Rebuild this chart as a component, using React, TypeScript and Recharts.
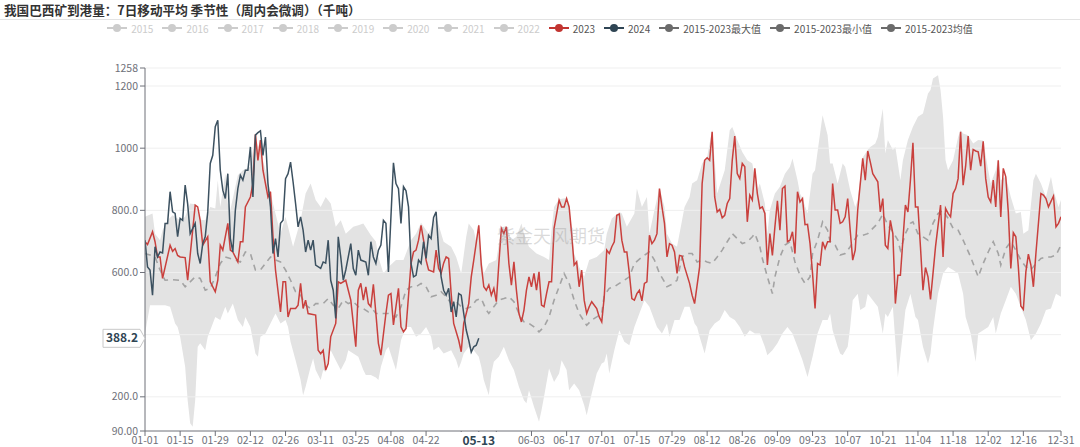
import React from "react";
import { ComposedChart, Area, Line, XAxis, YAxis, CartesianGrid } from "recharts";

const FONT = "'Noto Sans CJK SC', 'Noto Sans', sans-serif";

const title = "我国巴西矿到港量：7日移动平均 季节性（周内会微调）（千吨）";
const watermark = "紫金天风期货";

// legend: years that are switched off, then the visible series
const hiddenYears = ["2015", "2016", "2017", "2018", "2019", "2020", "2021", "2022"];
const shownSeries = ["2023", "2024", "2015-2023最大值", "2015-2023最小值", "2015-2023均值"];
const shownColors = ["#c23531", "#2f4554", "#6b6b6b", "#6b6b6b", "#6b6b6b"];

// x axis: day of a leap year (0 = 01-01, 365 = 12-31)
const xTicks = [0, 14, 28, 42, 56, 70, 84, 98, 112, 126, 140, 154, 168, 182, 196, 210, 224, 238, 252, 266, 280, 294, 308, 322, 336, 350, 365];
// labels sitting under the cursor box are not drawn
const xTicksCovered = [126, 140];
const cursorDay = 133;
const cursorValue = 388.2;

const yTicks = [90, 200, 600, 800, 1000, 1200, 1258];
const yGrid = [200, 400, 600, 800, 1000, 1200, 1258];

// [day, 千吨]
const y2023: [number, number][] = [
  [0, 699], [1, 690], [3, 731], [4, 699], [5, 650], [6, 650], [7, 581], [10, 688], [11, 668], [12, 677], [13, 655], [14, 650], [16, 648], [17, 575],
  [20, 817], [21, 811], [22, 768], [23, 688], [25, 715], [26, 570], [28, 538], [29, 575], [30, 688], [31, 672], [33, 758], [34, 672], [35, 666],
  [37, 634], [38, 699], [39, 699], [40, 811], [42, 843], [43, 886], [44, 1045], [45, 961], [46, 1026], [47, 929], [49, 843], [50, 860], [51, 715],
  [52, 608], [54, 473], [55, 570], [56, 570], [57, 457], [58, 484], [60, 484], [61, 495], [62, 565], [63, 484], [64, 511], [65, 468], [68, 463],
  [69, 350], [70, 339], [71, 350], [72, 286], [73, 307], [74, 393], [76, 436], [77, 570], [78, 565], [80, 575], [81, 543], [82, 511], [83, 436],
  [84, 361], [85, 543], [86, 565], [87, 511], [88, 554], [89, 500], [90, 490], [91, 562], [92, 468], [93, 372], [94, 334], [96, 468], [97, 527],
  [98, 532], [99, 431], [101, 549], [102, 425], [103, 409], [104, 420], [106, 629], [107, 666], [108, 672], [109, 704], [110, 752], [111, 704],
  [112, 640], [113, 608], [115, 602], [116, 672], [117, 613], [118, 597], [119, 630], [120, 650], [121, 645], [122, 532], [123, 436], [125, 382],
  [126, 345], [127, 436], [129, 500], [130, 586], [131, 640], [133, 752], [134, 624], [135, 554], [136, 543], [137, 560], [138, 527], [139, 549],
  [140, 506], [141, 629], [142, 742], [143, 725], [144, 747], [145, 629], [146, 559], [147, 634], [148, 543], [149, 468], [150, 441], [151, 479],
  [152, 543], [153, 586], [154, 554], [155, 597], [156, 543], [157, 602], [158, 495], [159, 490], [160, 532], [161, 570], [162, 570], [163, 742],
  [165, 833], [166, 811], [167, 811], [168, 838], [169, 811], [170, 725], [171, 624], [172, 634], [173, 554], [174, 608], [175, 511], [176, 468],
  [177, 490], [178, 506], [180, 484], [181, 457], [182, 441], [183, 522], [184, 672], [185, 661], [186, 683], [187, 699], [188, 784], [189, 788],
  [190, 704], [191, 666], [192, 666], [193, 597], [194, 516], [195, 511], [196, 532], [197, 543], [198, 509], [199, 565], [200, 570], [201, 720],
  [202, 693], [203, 704], [204, 725], [205, 870], [206, 811], [207, 758], [208, 650], [209, 693], [210, 688], [211, 666], [212, 597], [213, 655],
  [214, 653], [215, 618], [217, 565], [218, 527], [219, 500], [221, 618], [222, 886], [223, 961], [224, 969], [225, 961], [226, 1053], [227, 843],
  [228, 795], [229, 803], [230, 776], [231, 784], [232, 822], [233, 838], [234, 961], [235, 1039], [236, 918], [237, 902], [238, 951], [239, 940],
  [240, 763], [241, 849], [242, 833], [243, 935], [244, 854], [245, 806], [246, 811], [247, 790], [248, 624], [249, 725], [250, 655], [251, 747],
  [252, 831], [253, 736], [254, 870], [255, 878], [256, 699], [257, 704], [258, 731], [259, 661], [260, 860], [261, 827], [262, 838], [263, 754],
  [264, 755], [265, 693], [266, 597], [267, 484], [268, 629], [269, 624], [270, 699], [271, 677], [272, 699], [273, 699], [274, 886], [275, 801],
  [276, 801], [277, 758], [278, 763], [279, 779], [280, 838], [281, 736], [282, 640], [283, 672], [284, 801], [286, 967], [287, 897], [288, 991],
  [289, 956], [290, 918], [292, 892], [293, 795], [294, 838], [295, 688], [296, 677], [297, 768], [298, 725], [299, 500], [300, 591], [301, 591],
  [302, 704], [303, 817], [304, 795], [305, 897], [306, 1017], [307, 811], [308, 811], [309, 683], [310, 543], [311, 616], [312, 586], [313, 513],
  [314, 597], [315, 683], [317, 817], [318, 650], [319, 806], [320, 790], [321, 779], [322, 854], [323, 870], [324, 902], [325, 1053], [326, 881],
  [327, 942], [328, 1039], [329, 929], [330, 996], [331, 991], [332, 988], [333, 942], [334, 1022], [335, 902], [336, 843], [337, 827], [338, 897],
  [339, 811], [340, 961], [341, 779], [342, 935], [343, 908], [344, 795], [345, 613], [346, 728], [347, 715], [348, 618], [349, 492], [350, 481],
  [351, 602], [352, 659], [353, 624], [354, 554], [355, 661], [357, 854], [358, 849], [359, 838], [360, 811], [362, 846], [363, 747], [364, 758],
  [365, 779],
];

const y2024: [number, number][] = [
  [0, 704], [1, 618], [2, 608], [3, 527], [4, 683], [5, 650], [6, 666], [7, 663], [8, 758], [9, 758], [10, 860], [11, 795], [12, 790], [13, 715],
  [14, 774], [15, 768], [16, 881], [17, 821], [18, 725], [20, 758], [21, 661], [22, 629], [23, 693], [24, 715], [25, 795], [26, 951], [27, 977],
  [28, 1069], [29, 1090], [30, 929], [31, 865], [32, 838], [33, 918], [34, 710], [35, 666], [36, 800], [37, 870], [38, 913], [39, 897], [40, 929],
  [41, 929], [42, 1004], [43, 843], [44, 1042], [45, 1050], [46, 1056], [47, 977], [48, 1036], [49, 886], [50, 811], [51, 661], [52, 709], [53, 650],
  [54, 758], [55, 768], [56, 902], [57, 918], [58, 955], [59, 892], [60, 822], [61, 747], [62, 779], [63, 736], [64, 666], [65, 704], [66, 672],
  [67, 704], [68, 624], [70, 613], [71, 634], [72, 630], [73, 704], [74, 575], [75, 543], [76, 452], [77, 715], [78, 650], [79, 575], [80, 608],
  [82, 693], [83, 613], [84, 591], [85, 672], [86, 640], [88, 634], [89, 591], [90, 699], [91, 650], [92, 629], [93, 672], [94, 688], [95, 768],
  [96, 758], [97, 602], [98, 779], [99, 953], [100, 886], [101, 870], [102, 758], [103, 876], [104, 863], [105, 811], [106, 629], [107, 586],
  [108, 591], [109, 640], [110, 629], [111, 699], [112, 645], [113, 720], [114, 709], [115, 777], [116, 795], [117, 672], [118, 586], [119, 543],
  [120, 527], [121, 549], [122, 473], [123, 506], [124, 457], [125, 532], [126, 527], [127, 468], [128, 415], [129, 382], [130, 344], [131, 361],
  [132, 366], [133, 388.2],
];

const maxSeries: [number, number][] = [
  [0, 779], [3, 790], [4, 725], [6, 704], [7, 736], [9, 768], [11, 784], [14, 768], [16, 779], [18, 822], [20, 820], [22, 770], [24, 768], [26, 811],
  [28, 806], [29, 897], [30, 811], [32, 918], [33, 822], [34, 801], [36, 876], [37, 913], [39, 929], [42, 940], [44, 1050], [45, 1000], [46, 1030],
  [47, 960], [48, 930], [51, 822], [54, 725], [56, 779], [59, 683], [62, 768], [64, 854], [66, 886], [68, 833], [70, 811], [72, 843], [74, 822],
  [76, 747], [78, 768], [80, 725], [83, 747], [85, 752], [87, 758], [90, 720], [92, 700], [93, 650], [95, 597], [97, 618], [100, 640], [103, 640],
  [106, 704], [108, 725], [110, 760], [113, 725], [116, 779], [119, 699], [122, 683], [124, 650], [126, 597], [128, 715], [129, 758], [131, 736],
  [132, 700], [133, 760], [134, 650], [135, 597], [137, 629], [140, 640], [142, 745], [144, 750], [146, 704], [148, 715], [150, 758], [151, 725],
  [153, 683], [156, 661], [159, 650], [161, 640], [162, 736], [163, 811], [165, 836], [168, 840], [169, 815], [171, 661], [173, 618], [175, 586],
  [177, 640], [180, 650], [183, 672], [184, 725], [186, 774], [189, 795], [190, 790], [192, 747], [195, 790], [196, 870], [198, 811], [200, 843],
  [201, 725], [203, 801], [205, 872], [207, 811], [208, 725], [210, 693], [212, 683], [214, 768], [215, 811], [217, 843], [218, 886], [220, 897],
  [222, 951], [224, 972], [226, 1060], [228, 854], [231, 929], [233, 1058], [234, 1068], [236, 1026], [238, 988], [240, 961], [242, 951], [244, 865],
  [245, 886], [247, 822], [248, 725], [249, 801], [251, 854], [253, 876], [255, 918], [257, 940], [258, 967], [260, 897], [261, 854], [262, 838],
  [264, 790], [266, 918], [267, 929], [269, 1047], [270, 1106], [272, 1042], [273, 951], [274, 951], [276, 886], [278, 951], [279, 940], [281, 865],
  [283, 811], [284, 833], [286, 970], [288, 995], [289, 1004], [291, 1015], [292, 1036], [294, 1127], [295, 983], [296, 1026], [298, 994], [299, 1004],
  [301, 897], [302, 961], [304, 1026], [306, 1069], [308, 1101], [310, 1112], [312, 1176], [313, 1187], [314, 1224], [316, 1235], [317, 1187],
  [318, 1101], [319, 961], [320, 929], [322, 961], [324, 1036], [325, 1058], [326, 1047], [328, 1042], [330, 1015], [332, 1026], [334, 1025],
  [336, 929], [337, 886], [339, 929], [340, 965], [341, 897], [343, 910], [345, 843], [347, 790], [349, 795], [350, 725], [352, 736], [354, 897],
  [355, 918], [357, 886], [359, 843], [361, 908], [362, 865], [364, 811], [365, 833],
];

const minSeries: [number, number][] = [
  [0, 404], [2, 495], [3, 495], [8, 495], [10, 490], [12, 436], [13, 425], [14, 393], [16, 297], [17, 189], [18, 115], [19, 104], [20, 189], [21, 361],
  [22, 372], [24, 350], [25, 393], [26, 414], [28, 457], [30, 447], [32, 490], [33, 468], [35, 500], [37, 447], [39, 425], [40, 457], [42, 425],
  [44, 339], [45, 329], [46, 393], [48, 404], [50, 436], [52, 468], [54, 436], [56, 447], [57, 425], [58, 377], [60, 318], [62, 254], [63, 205],
  [64, 232], [66, 297], [67, 323], [68, 286], [70, 254], [71, 286], [72, 280], [73, 334], [74, 350], [76, 318], [78, 286], [80, 318], [81, 350],
  [83, 339], [85, 329], [87, 286], [88, 270], [90, 270], [92, 262], [93, 254], [94, 297], [96, 350], [97, 361], [100, 286], [102, 382], [104, 425],
  [106, 425], [108, 393], [110, 404], [112, 425], [114, 393], [115, 350], [117, 361], [119, 339], [122, 350], [124, 318], [125, 291], [126, 313],
  [127, 339], [129, 361], [131, 350], [133, 329], [134, 297], [135, 254], [137, 205], [138, 275], [139, 313], [141, 329], [143, 361], [145, 318],
  [147, 286], [149, 232], [151, 189], [152, 179], [153, 221], [155, 168], [157, 120], [158, 157], [159, 200], [161, 291], [163, 248], [165, 275],
  [166, 318], [168, 286], [169, 221], [171, 243], [173, 221], [175, 173], [176, 141], [178, 211], [180, 275], [182, 307], [183, 312], [184, 339],
  [185, 275], [187, 350], [189, 414], [191, 377], [193, 366], [195, 425], [197, 468], [199, 511], [201, 490], [202, 468], [204, 425], [206, 404],
  [208, 436], [209, 393], [211, 447], [213, 447], [215, 490], [217, 490], [219, 436], [220, 425], [221, 393], [223, 339], [225, 414], [227, 436],
  [229, 447], [231, 479], [233, 457], [235, 447], [237, 425], [239, 393], [241, 414], [243, 404], [245, 404], [247, 361], [248, 334], [250, 350],
  [252, 372], [254, 404], [256, 425], [258, 404], [260, 361], [262, 318], [264, 264], [266, 329], [268, 404], [270, 447], [272, 447], [273, 468],
  [274, 414], [276, 361], [277, 339], [278, 334], [280, 361], [281, 425], [282, 511], [284, 532], [285, 479], [287, 490], [288, 532], [290, 511],
  [292, 490], [294, 404], [295, 468], [296, 457], [298, 490], [300, 264], [302, 404], [303, 479], [305, 532], [307, 457], [308, 447], [310, 361],
  [312, 307], [313, 339], [314, 414], [316, 532], [318, 597], [320, 618], [322, 608], [324, 597], [326, 532], [327, 457], [329, 404], [331, 313],
  [332, 404], [334, 414], [336, 425], [338, 457], [339, 404], [341, 468], [343, 511], [345, 554], [347, 532], [349, 488], [351, 447], [353, 382],
  [355, 404], [357, 436], [359, 479], [361, 484], [363, 532], [365, 522],
];

const meanSeries: [number, number][] = [
  [0, 661], [2, 656], [4, 650], [6, 608], [8, 575], [11, 577], [14, 575], [16, 554], [18, 570], [20, 586], [22, 581], [24, 543], [26, 549], [28, 586],
  [30, 629], [32, 650], [34, 645], [36, 640], [38, 634], [40, 666], [42, 661], [44, 608], [46, 608], [48, 629], [50, 650], [52, 640], [54, 634],
  [56, 608], [58, 575], [60, 538], [62, 527], [64, 495], [66, 484], [68, 500], [71, 500], [73, 516], [75, 495], [77, 484], [79, 511], [81, 500],
  [83, 506], [85, 490], [87, 484], [89, 473], [91, 479], [92, 468], [95, 468], [97, 468], [100, 457], [102, 490], [104, 543], [106, 554], [108, 554],
  [110, 565], [112, 554], [114, 522], [116, 527], [118, 538], [120, 522], [122, 500], [124, 506], [126, 490], [128, 484], [130, 490], [132, 511],
  [134, 516], [136, 479], [137, 468], [139, 490], [141, 511], [143, 516], [145, 522], [147, 506], [149, 468], [151, 441], [153, 436], [155, 425],
  [157, 409], [159, 425], [161, 457], [163, 511], [165, 554], [167, 597], [169, 565], [171, 511], [173, 468], [176, 430], [178, 447], [180, 457],
  [182, 468], [183, 527], [185, 549], [187, 554], [189, 565], [191, 575], [193, 586], [195, 629], [198, 650], [200, 661], [201, 666], [203, 640],
  [205, 597], [207, 570], [208, 554], [210, 562], [212, 575], [214, 650], [216, 661], [218, 661], [220, 634], [222, 640], [224, 634], [226, 629],
  [228, 650], [230, 672], [232, 699], [234, 725], [236, 709], [238, 693], [240, 699], [242, 715], [243, 725], [245, 683], [246, 645], [248, 586],
  [250, 532], [251, 586], [253, 650], [255, 688], [257, 699], [259, 634], [261, 591], [263, 565], [265, 586], [266, 661], [268, 704], [270, 763],
  [272, 736], [273, 700], [275, 688], [277, 656], [279, 661], [281, 683], [283, 709], [284, 720], [286, 720], [288, 725], [290, 742], [292, 758],
  [294, 788], [296, 752], [298, 731], [300, 704], [301, 672], [303, 725], [305, 758], [306, 763], [308, 725], [310, 715], [312, 704], [314, 758],
  [316, 790], [318, 800], [320, 774], [322, 742], [324, 736], [326, 704], [329, 650], [332, 586], [334, 629], [336, 666], [338, 699], [340, 661],
  [341, 624], [343, 677], [345, 699], [347, 672], [349, 640], [351, 618], [353, 608], [355, 629], [357, 645], [359, 650], [361, 650], [363, 656],
  [365, 688],
];

type Row = { day: number; [key: string]: number };

const rows: Row[] = Array.from({ length: 366 }, (_, d) => ({ day: d }));
const put = (key: string, pts: [number, number][]) => pts.forEach(([d, v]) => (rows[d][key] = v));
put("s2023", y2023);
put("s2024", y2024);
put("max", maxSeries);
put("min", minSeries);
put("mean", meanSeries);

const dayLabel = (d: number) => {
  const dt = new Date(2024, 0, 1 + d);
  const mm = String(dt.getMonth() + 1).padStart(2, "0");
  const dd = String(dt.getDate()).padStart(2, "0");
  return `${mm}-${dd}`;
};

const yLabel = (v: number) => (v >= 1000 ? v.toFixed(0) : v >= 100 ? v.toFixed(1) : v.toFixed(2));

const XTick = (props: any) => {
  const { x, y, payload } = props;
  if (payload.value === cursorDay) {
    return (
      <g>
        <rect x={x - 27} y={y - 6} width={54} height={22} fill="#fff" />
        <text x={x} y={y + 6.5} textAnchor="middle" fontFamily={FONT} fontSize={12} fontWeight="bold" fill="#2f4554">
          {dayLabel(payload.value)}
        </text>
      </g>
    );
  }
  if (xTicksCovered.includes(payload.value)) return <g />;
  return (
    <text x={x} y={y + 6} textAnchor="middle" fontFamily={FONT} fontSize={10.5} fill="#6e7079">
      {dayLabel(payload.value)}
    </text>
  );
};

const YTick = (props: any) => {
  const { x, y, payload } = props;
  if (payload.value === cursorValue) {
    const r = x + 2;
    return (
      <g>
        <path
          d={`M${r - 37},${y - 9} L${r},${y - 9} L${r + 5},${y} L${r},${y + 9} L${r - 37},${y + 9} Z`}
          fill="#fff"
          stroke="#c8c8c8"
        />
        <text x={r - 18} y={y + 4} textAnchor="middle" fontFamily={FONT} fontSize={12} fontWeight="bold" fill="#2f4554">
          {yLabel(payload.value)}
        </text>
      </g>
    );
  }
  return (
    <text x={x} y={y + 3.5} textAnchor="end" fontFamily={FONT} fontSize={10.5} fill="#6e7079">
      {yLabel(payload.value)}
    </text>
  );
};

const LegendIcon = ({ color }: { color: string }) => (
  <svg width={20} height={10}>
    <line x1={0} y1={5} x2={20} y2={5} stroke={color} strokeWidth={2} />
    <circle cx={10} cy={5} r={4} fill={color} />
  </svg>
);

const LegendRow = () => (
  <div
    style={{
      position: "absolute",
      top: 21,
      left: 0,
      width: 1080,
      height: 14,
      display: "flex",
      justifyContent: "center",
      alignItems: "center",
      gap: 9,
      fontFamily: FONT,
      fontSize: 10,
    }}
  >
    {hiddenYears.map((n) => (
      <div key={n} style={{ display: "flex", alignItems: "center" }}>
        <LegendIcon color="#cccccc" />
        <span style={{ marginLeft: 4, color: "#cccccc" }}>{n}</span>
      </div>
    ))}
    {shownSeries.map((n, i) => (
      <div key={n} style={{ display: "flex", alignItems: "center" }}>
        <LegendIcon color={shownColors[i]} />
        <span style={{ marginLeft: 4, color: "#555" }}>{n}</span>
      </div>
    ))}
  </div>
);

export default function App() {
  return (
    <div style={{ position: "absolute", left: 0, top: 0, width: 1080, height: 447, background: "#fff", overflow: "hidden" }}>
      <div style={{ position: "absolute", left: 4, top: 0, fontFamily: FONT, fontSize: 12.6, fontWeight: "bold", color: "#333", whiteSpace: "nowrap" }}>
        {title}
      </div>
      <div style={{ position: "absolute", left: 0, top: 19, width: 1080, height: 1, background: "#e3e3e3" }} />
      <LegendRow />
      <ComposedChart width={1080} height={447} data={rows} margin={{ top: 68, right: 19, bottom: 0, left: 0 }}>
        <XAxis
          type="number"
          dataKey="day"
          domain={[0, 365]}
          ticks={[...xTicks, cursorDay]}
          interval={0}
          height={16}
          tick={<XTick />}
          tickSize={5}
          stroke="#6e7079"
          allowDataOverflow
        />
        <YAxis
          type="number"
          domain={[90, 1258]}
          ticks={[...yTicks, cursorValue]}
          interval={0}
          width={145}
          tick={<YTick />}
          tickSize={5}
          stroke="#6e7079"
          allowDataOverflow
        />
        <Area
          dataKey="max"
          type="linear"
          stroke="none"
          fill="#e3e3e3"
          fillOpacity={1}
          baseValue={90}
          connectNulls
          dot={false}
          activeDot={false}
          isAnimationActive={false}
        />
        <Area
          dataKey="min"
          type="linear"
          stroke="none"
          fill="#ffffff"
          fillOpacity={1}
          baseValue={90}
          connectNulls
          dot={false}
          activeDot={false}
          isAnimationActive={false}
        />
        <CartesianGrid vertical={false} horizontalValues={yGrid} stroke="#efefef" zIndex={150} />
        <Line dataKey="mean" type="linear" stroke="#a3a3a3" strokeWidth={1.6} strokeDasharray="6 5" dot={false} connectNulls isAnimationActive={false} />
        <Line dataKey="s2023" type="linear" stroke="#c9403d" strokeWidth={1.5} dot={false} connectNulls isAnimationActive={false} />
        <Line dataKey="s2024" type="linear" stroke="#3c5160" strokeWidth={1.5} dot={false} connectNulls isAnimationActive={false} />
      </ComposedChart>
      <div
        style={{
          position: "absolute",
          left: 497,
          top: 222,
          fontFamily: FONT,
          fontSize: 18,
          color: "rgba(150,150,150,0.35)",
          pointerEvents: "none",
          whiteSpace: "nowrap",
        }}
      >
        {watermark}
      </div>
    </div>
  );
}
